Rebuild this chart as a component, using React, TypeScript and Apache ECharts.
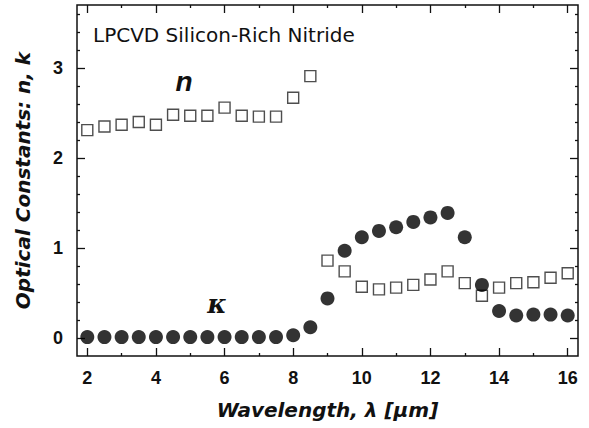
import React, { useEffect, useRef } from "react";
import * as echarts from "echarts";

const wavelengths = [2, 2.5, 3, 3.5, 4, 4.5, 5, 5.5, 6, 6.5, 7, 7.5, 8, 8.5, 9, 9.5, 10, 10.5, 11, 11.5, 12, 12.5, 13, 13.5, 14, 14.5, 15, 15.5, 16];
const nValues = [2.31, 2.35, 2.37, 2.4, 2.37, 2.48, 2.47, 2.47, 2.56, 2.47, 2.46, 2.46, 2.67, 2.91, 0.86, 0.74, 0.57, 0.54, 0.56, 0.59, 0.65, 0.74, 0.61, 0.47, 0.56, 0.61, 0.62, 0.67, 0.72];
const kValues = [0.01, 0.01, 0.01, 0.01, 0.01, 0.01, 0.01, 0.01, 0.01, 0.01, 0.01, 0.01, 0.03, 0.12, 0.44, 0.97, 1.12, 1.19, 1.23, 1.29, 1.34, 1.39, 1.12, 0.59, 0.3, 0.25, 0.26, 0.26, 0.25];
const xMajorTicks = [2, 4, 6, 8, 10, 12, 14, 16];
const xMinorTicks = [3, 5, 7, 9, 11, 13, 15];
const yMajorTicks = [0, 1, 2, 3];
const yMinorTicks = [0.2, 0.4, 0.6, 0.8, 1.2, 1.4, 1.6, 1.8, 2.2, 2.4, 2.6, 2.8, 3.2, 3.4, 3.6];
const titleText = "LPCVD Silicon-Rich Nitride";
const xAxisTitle = "Wavelength, λ [μm]";
const yAxisTitle = "Optical Constants: n, k";

const X_MIN = 1.7;
const X_MAX = 16.3;
const Y_MIN = -0.2;
const Y_MAX = 3.7;
const INK = "#111";

export default function App() {
  const ref = useRef<HTMLDivElement>(null);
  useEffect(() => {
    if (!ref.current) return;
    const chart = echarts.init(ref.current, undefined, { renderer: "svg" });
    const tickFont = { fontFamily: "Liberation Sans, Arial, sans-serif", fontWeight: "bold", fontSize: 18, color: INK };
    const nameFont = { fontFamily: "DejaVu Sans", fontWeight: "bold", fontStyle: "italic", fontSize: 20, color: INK };
    const hidden = { show: false };
    const noLine = { show: false, onZero: false };
    const xBase = { type: "value", min: X_MIN, max: X_MAX, axisLine: noLine, splitLine: hidden, gridIndex: 0 };
    const yBase = { type: "value", min: Y_MIN, max: Y_MAX, axisLine: noLine, splitLine: hidden, gridIndex: 0 };
    const tick = (vals: number[], len: number) => ({ show: true, inside: true, length: len, customValues: vals, lineStyle: { color: INK, width: 1.3 } });
    chart.setOption({
      animation: false,
      backgroundColor: "#fff",
      grid: { left: 77, right: 11, top: 5, bottom: 72, show: true, borderColor: INK, borderWidth: 1.5, backgroundColor: "transparent" },
      xAxis: [
        {
          ...xBase,
          position: "bottom",
          axisTick: tick(xMajorTicks, 8),
          axisLabel: { ...tickFont, margin: 13, customValues: xMajorTicks },
          name: xAxisTitle,
          nameLocation: "middle",
          nameGap: 44,
          nameTextStyle: nameFont,
        },
        { ...xBase, position: "bottom", axisTick: tick(xMinorTicks, 3), axisLabel: hidden },
        { ...xBase, position: "top", axisTick: tick(xMajorTicks, 8), axisLabel: hidden },
        { ...xBase, position: "top", axisTick: tick(xMinorTicks, 3), axisLabel: hidden },
      ],
      yAxis: [
        {
          ...yBase,
          position: "left",
          axisTick: tick(yMajorTicks, 8),
          axisLabel: { ...tickFont, margin: 14, customValues: yMajorTicks },
          name: yAxisTitle,
          nameLocation: "middle",
          nameGap: 44,
          nameRotate: 90,
          nameTextStyle: nameFont,
        },
        { ...yBase, position: "left", axisTick: tick(yMinorTicks, 3), axisLabel: hidden },
        { ...yBase, position: "right", axisTick: tick(yMajorTicks, 8), axisLabel: hidden },
        { ...yBase, position: "right", axisTick: tick(yMinorTicks, 3), axisLabel: hidden },
      ],
      series: [
        {
          type: "scatter",
          name: "n",
          xAxisIndex: 0,
          yAxisIndex: 0,
          symbol: "rect",
          symbolSize: 11,
          itemStyle: { color: "#fff", borderColor: "#222", borderWidth: 1.4 },
          data: wavelengths.map((w, i) => [w, nValues[i]]),
          z: 2,
        },
        {
          type: "scatter",
          name: "k",
          xAxisIndex: 0,
          yAxisIndex: 0,
          symbol: "circle",
          symbolSize: 14,
          itemStyle: { color: "#000" },
          data: wavelengths.map((w, i) => [w, kValues[i]]),
          z: 3,
        },
      ],
      graphic: [
        { type: "text", left: 93, top: 25, style: { text: titleText, font: "20px 'DejaVu Sans'", fill: INK } },
        { type: "text", x: 184, y: 81, style: { text: "n", font: "italic bold 28px 'Liberation Sans'", fill: INK, textAlign: "center", textVerticalAlign: "middle" } },
        { type: "text", x: 217, y: 304, style: { text: "κ", font: "italic bold 26px 'DejaVu Serif'", fill: INK, textAlign: "center", textVerticalAlign: "middle" } },
      ],
    });
    return () => chart.dispose();
  }, []);
  return <div ref={ref} style={{ position: "fixed", left: 0, top: 0, width: 589, height: 428 }} />;
}
